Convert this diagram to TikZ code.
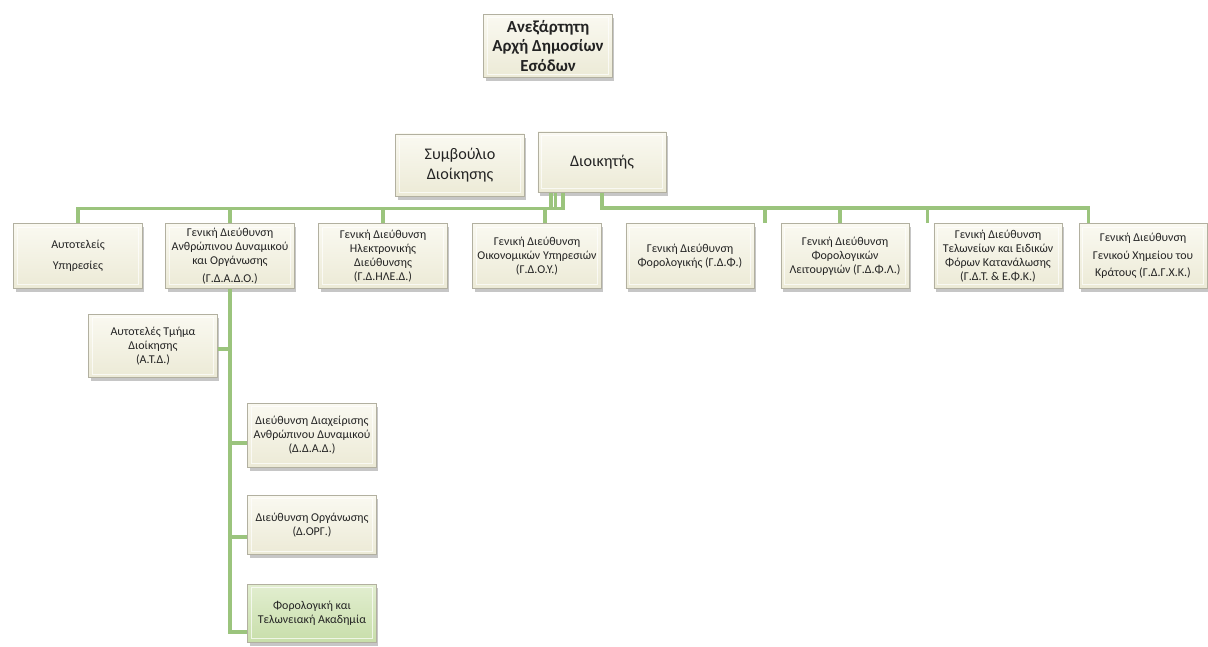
\documentclass[tikz,border=0pt]{standalone}
\usepackage{fontspec}
\setmainfont{Carlito}
\usepackage{tikz}
\usetikzlibrary{shadows,positioning}
\definecolor{orgcream}{RGB}{236,234,214}
\definecolor{orgcreamtop}{RGB}{250,249,241}
\definecolor{orgedge}{RGB}{178,176,160}
\definecolor{orggreen}{RGB}{155,196,125}
\definecolor{orglightgreen}{RGB}{200,222,170}
\definecolor{orglightgreentop}{RGB}{226,238,208}
\definecolor{orgtext}{RGB}{35,35,35}
\tikzstyle{unit} = [rectangle, draw=orgedge, line width=0.7pt, top color=orgcreamtop, bottom color=orgcream, text=orgtext, align=center, minimum width=3.2cm, minimum height=1.62cm, inner sep=1pt, font=\fontsize{8.5}{10}\selectfont, drop shadow={shadow xshift=1.5pt, shadow yshift=-2.5pt, opacity=0.45}, path picture={\draw[white, opacity=0.7, line width=0.8pt] ([shift={(2.5pt,-2.5pt)}]path picture bounding box.north west) rectangle ([shift={(-2.5pt,2.5pt)}]path picture bounding box.south east);}]
\tikzstyle{bigunit} = [unit, font=\fontsize{11.5}{14}\selectfont, minimum height=1.55cm]
\tikzstyle{link} = [line width=2.6pt, color=orggreen]

\begin{document}
\begin{tikzpicture}[x=0.025cm, y=-0.025cm]
\useasboundingbox (0,0) rectangle (1208,646);

% Top levels
\node[bigunit, font=\bfseries\fontsize{12}{14}\selectfont, minimum height=1.58cm] (adae) at (548,46) {Ανεξάρτητη\\Αρχή Δημοσίων\\Εσόδων};
\node[bigunit] (council) at (460,165) {Συμβούλιο\\Διοίκησης};
\node[bigunit, minimum height=1.5cm] (dir) at (602,162) {Διοικητής};

% General directorates
\node[unit] (aut) at (78,256) {Αυτοτελείς\\[5pt]Υπηρεσίες};
\node[unit] (gdado) at (230,256) {Γενική Διεύθυνση\\Ανθρώπινου Δυναμικού\\και Οργάνωσης\\[3pt](Γ.Δ.Α.Δ.Ο.)};
\node[unit] (gdhled) at (383,256) {Γενική Διεύθυνση\\Ηλεκτρονικής\\Διεύθυνσης\\(Γ.Δ.ΗΛΕ.Δ.)};
\node[unit] (gdoy) at (537,256) {Γενική Διεύθυνση\\Οικονομικών Υπηρεσιών\\(Γ.Δ.Ο.Υ.)};
\node[unit] (gdf) at (690,256) {Γενική Διεύθυνση\\Φορολογικής (Γ.Δ.Φ.)};
\node[unit] (gdfl) at (845,256) {Γενική Διεύθυνση\\Φορολογικών\\Λειτουργιών (Γ.Δ.Φ.Λ.)};
\node[unit] (gdt) at (998,256) {Γενική Διεύθυνση\\Τελωνείων και Ειδικών\\Φόρων Κατανάλωσης\\(Γ.Δ.Τ. \& Ε.Φ.Κ.)};
\node[unit, font=\fontsize{8.5}{12.5}\selectfont] (gdgxk) at (1143,256) {Γενική Διεύθυνση\\Γενικού Χημείου του\\Κράτους (Γ.Δ.Γ.Χ.Κ.)};

% Units under Γ.Δ.Α.Δ.Ο.
\node[unit, minimum height=1.58cm] (atd) at (153,346) {Αυτοτελές Τμήμα\\Διοίκησης\\(Α.Τ.Δ.)};
\node[unit, minimum height=1.6cm] (ddad) at (312,435) {Διεύθυνση Διαχείρισης\\Ανθρώπινου Δυναμικού\\(Δ.Δ.Α.Δ.)};
\node[unit, minimum height=1.48cm] (dorg) at (312,525) {Διεύθυνση Οργάνωσης\\(Δ.ΟΡΓ.)};
\node[unit, top color=orglightgreentop, bottom color=orglightgreen, minimum height=1.45cm] (acad) at (312,613) {Φορολογική και\\Τελωνειακή Ακαδημία};

% Bus under the director
\coordinate (bus) at (600,208);
\coordinate (dOY) at ([xshift=0.2cm]gdoy.north);
\coordinate (dF) at ([xshift=0.27cm]gdf.north east);
\coordinate (dFL) at ([xshift=-0.12cm]gdfl.north);
\coordinate (dT) at ([xshift=-0.15cm]gdt.north west);
\coordinate (dGX) at ([xshift=0.25cm]gdgxk.north west);

\draw[link] ([xshift=0.63cm]dir.south west) -- ++(0,16) -| (aut.north);
\draw[link] ([xshift=0.45cm]dir.south west) -- ++(0,16);
\draw[link] ([xshift=0.33cm]dir.south west) -- ++(0,16);
\foreach \n in {gdado,gdhled,dOY}
  \draw[link] (\n) -- (\n |- bus);
\draw[link] (dir.south) -- (dir.south |- bus) -| (dGX);
\foreach \n in {dF,dFL,dT}
  \draw[link] (\n) -- (\n |- bus);

% Spine of Γ.Δ.Α.Δ.Ο.
\coordinate (aAT) at ([yshift=-0.08cm]atd.east);
\coordinate (aDD) at ([yshift=-0.2cm]ddad.west);
\coordinate (aOR) at ([yshift=-0.3cm]dorg.west);
\coordinate (aAC) at ([yshift=-0.47cm]acad.west);
\draw[link] (gdado.south) |- (aAC);
\foreach \n in {aAT,aDD,aOR}
  \draw[link] (\n) -- (\n -| gdado.south);
\end{tikzpicture}
\end{document}
